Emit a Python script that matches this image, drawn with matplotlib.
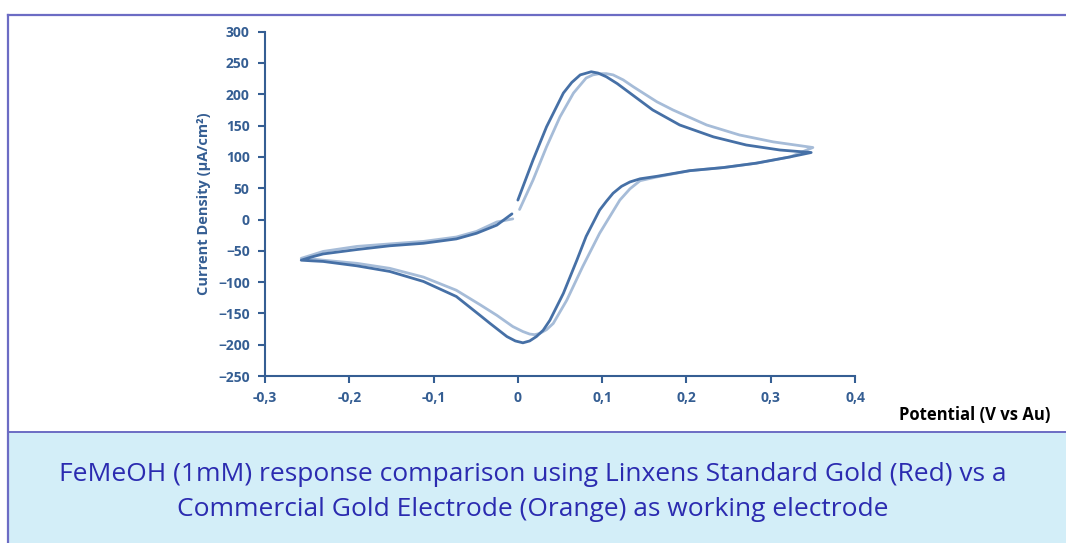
import matplotlib.pyplot as plt
from matplotlib.patches import Rectangle
from matplotlib.lines import Line2D

# Linxens standard gold (dark curve): potential (V) / current density (uA/cm2)
linxens_E = [0.000, 0.018, 0.034, 0.054, 0.064, 0.074, 0.087, 0.095, 0.105, 0.118,
             0.133, 0.160, 0.192, 0.232, 0.271, 0.311, 0.348,
             0.323, 0.283, 0.244, 0.204, 0.165, 0.145, 0.133, 0.123, 0.113, 0.105,
             0.097, 0.081, 0.070, 0.054, 0.038, 0.030, 0.022, 0.014, 0.006, -0.003,
             -0.013, -0.033, -0.045, -0.073, -0.112, -0.152, -0.191, -0.231, -0.245,
             -0.257,
             -0.245, -0.231, -0.191, -0.152, -0.112, -0.073, -0.049, -0.025, -0.007]
linxens_j = [31, 95, 148, 202, 219, 231, 236, 234, 228, 217,
             202, 175, 151, 132, 119, 111, 107,
             100, 90, 83, 78, 69, 65, 60, 53, 42, 29,
             15, -27, -65, -118, -161, -177, -187, -194, -197, -194,
             -187, -166, -153, -123, -99, -83, -74, -67, -66,
             -65,
             -60, -55, -48, -42, -38, -31, -22, -9, 9]

# Commercial gold electrode (light curve)
commercial_E = [0.002, 0.018, 0.034, 0.050, 0.066, 0.081, 0.089, 0.097, 0.105, 0.113,
                0.125, 0.137, 0.165, 0.184, 0.224, 0.263, 0.303, 0.350,
                0.323, 0.283, 0.244, 0.204, 0.165, 0.145, 0.133, 0.121, 0.097, 0.077,
                0.058, 0.042, 0.034, 0.026, 0.020, 0.014, 0.006, -0.006, -0.025, -0.045,
                -0.073, -0.112, -0.152, -0.191, -0.231, -0.245, -0.257,
                -0.245, -0.231, -0.191, -0.152, -0.112, -0.073, -0.049, -0.025, -0.006]
commercial_j = [16, 63, 116, 164, 202, 226, 231, 233, 233, 231,
                223, 212, 188, 175, 151, 135, 124, 115,
                100, 90, 83, 78, 68, 62, 49, 31, -22, -75,
                -129, -166, -176, -182, -184, -183, -179, -171, -153, -136,
                -113, -92, -78, -70, -65, -63, -62,
                -57, -51, -43, -39, -35, -28, -19, -4, 1]

x_ticks = [-0.3, -0.2, -0.1, 0, 0.1, 0.2, 0.3, 0.4]
x_labels = ['-0,3', '-0,2', '-0,1', '0', '0,1', '0,2', '0,3', '0,4']
y_ticks = list(range(-250, 301, 50))

caption = ("FeMeOH (1mM) response comparison using Linxens Standard Gold (Red) vs a\n"
           "Commercial Gold Electrode (Orange) as working electrode")

axis_blue = '#355e93'
dark_line = '#4670a6'
light_line = '#a6bcd8'

plt.rcParams['font.family'] = ['Open Sans', 'DejaVu Sans']

fig = plt.figure(figsize=(10.66, 5.43), dpi=100)

# frame and caption box
fig.patches.append(Rectangle((8 / 1066, 0), 1 - 8 / 1066, 1 - 432 / 543,
                             transform=fig.transFigure, facecolor='#d3eef8',
                             edgecolor='none', zorder=0))
border = '#6c6cc4'
fig.lines.append(Line2D([8 / 1066, 8 / 1066], [0, 1 - 15 / 543], transform=fig.transFigure,
                        color=border, lw=1.6))
fig.lines.append(Line2D([8 / 1066, 1], [1 - 15 / 543, 1 - 15 / 543], transform=fig.transFigure,
                        color=border, lw=1.6))
fig.lines.append(Line2D([8 / 1066, 1], [1 - 432 / 543, 1 - 432 / 543], transform=fig.transFigure,
                        color=border, lw=1.4))

ax = fig.add_axes([265 / 1066, 1 - 376 / 543, (855 - 265) / 1066, (376 - 31.7) / 543])
ax.plot(commercial_E, commercial_j, color=light_line, lw=2.0,
        solid_capstyle='round', solid_joinstyle='round')
ax.plot(linxens_E, linxens_j, color=dark_line, lw=2.0,
        solid_capstyle='round', solid_joinstyle='round')

ax.set_xlim(-0.3, 0.4)
ax.set_ylim(-250, 300)
ax.set_xticks(x_ticks)
ax.set_xticklabels(x_labels)
ax.set_yticks(y_ticks)
for s in ['top', 'right']:
    ax.spines[s].set_visible(False)
for s in ['left', 'bottom']:
    ax.spines[s].set_color(axis_blue)
    ax.spines[s].set_linewidth(1.5)
ax.tick_params(colors=axis_blue, width=1.5, length=5, labelsize=10, pad=6)
for lab in ax.get_xticklabels() + ax.get_yticklabels():
    lab.set_fontweight('bold')
    lab.set_color(axis_blue)

ax.set_ylabel('Current Density (µA/cm²)', color=axis_blue, fontsize=10.5,
              fontweight='bold', labelpad=5)
fig.text(1050 / 1066, 1 - 415 / 543, 'Potential (V vs Au)', ha='right', va='center',
         fontsize=12, fontweight='bold', color='black')

fig.text(0.5, 1 - 492 / 543, caption, ha='center', va='center', fontsize=19,
         color='#2b2bb0', linespacing=1.55)

fig.savefig('out.png', dpi=100)
